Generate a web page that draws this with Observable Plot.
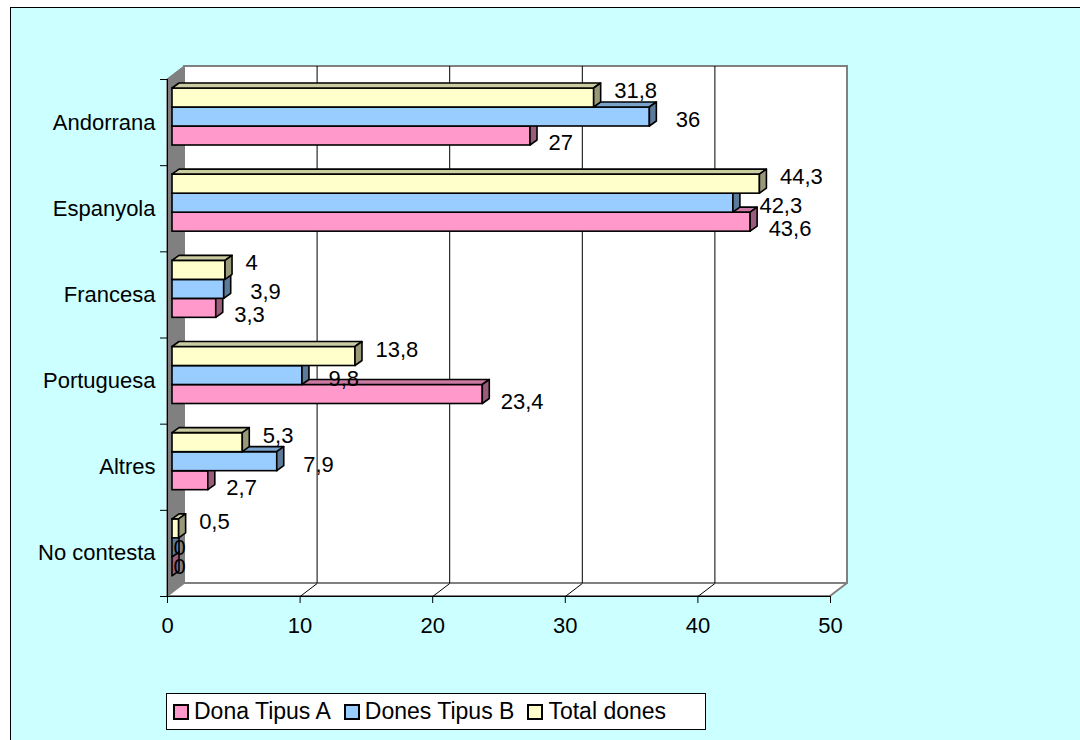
<!DOCTYPE html>
<html><head><meta charset="utf-8">
<script src="https://cdn.jsdelivr.net/npm/d3@7"></script>
<script src="https://cdn.jsdelivr.net/npm/@observablehq/plot@0.6"></script>
<style>
body{margin:0;background:#fff;width:1080px;height:740px;overflow:hidden;position:relative;font-family:"Liberation Sans",Arial,sans-serif;}
#frame{position:absolute;left:10px;top:7px;width:1100px;height:800px;background:#CCFFFF;border:1px solid #000;}
#chart{position:absolute;left:0;top:0;}
#legend{position:absolute;left:166px;top:693px;box-sizing:border-box;width:540px;height:37px;background:#fff;border:1px solid #000;display:flex;align-items:center;padding-left:6px;font-size:23px;color:#000;}
#legend .item{display:flex;align-items:center;margin-right:13px;white-space:nowrap;}
#legend .sw{box-sizing:border-box;width:16px;height:16px;border:2px solid #000;margin-right:5px;}
</style></head>
<body>
<div id="frame"></div>
<div id="chart"></div>
<div id="legend"></div>
<script>
const categories = ["Andorrana", "Espanyola", "Francesa", "Portuguesa", "Altres", "No contesta"];
const donaTipusA = [27, 43.6, 3.3, 23.4, 2.7, 0];
const donesTipusB = [36, 42.3, 3.9, 9.8, 7.9, 0];
const totalDones = [31.8, 44.3, 4, 13.8, 5.3, 0.5];
const seriesNames = ["Dona Tipus A", "Dones Tipus B", "Total dones"];
const xTicks = [0, 10, 20, 30, 40, 50];

// layout
const W = 1080, H = 660, ML = 167, MR = 250, MT = 79, MB = 64;
const X0 = ML, X1 = W - MR, Y0 = MT, Y1 = H - MB;
const pxX = 50 / (X1 - X0), pxY = categories.length / (Y1 - Y0);
const WX = 17, WY = 13;       // wall depth (px)
const BX = 7, BY = 5;         // bar depth (px)
const BAR_FRONT_DX = 5;
const BAND_START = 9, BAR_H = 19;
const FS = 22;

const fmt = v => String(v).replace(".", ",");

const series = [
  {name: seriesNames[0], values: donaTipusA, slot: 2, fill: "#FF99CC", top: "#CC7AA3", side: "#995C7A", dx: 23, dy: 7},
  {name: seriesNames[1], values: donesTipusB, slot: 1, fill: "#99CCFF", top: "#7AA3CC", side: "#5C7A99", dx: 31, dy: 3},
  {name: seriesNames[2], values: totalDones, slot: 0, fill: "#FFFFCC", top: "#CCCCA3", side: "#99997A", dx: 25, dy: -7}
];

function rowsOf(s) {
  return categories.map((c, i) => ({
    cat: c, i, v: s.values[i],
    y1: i + (BAND_START + BAR_H * s.slot) * pxY,
    y2: i + (BAND_START + BAR_H * (s.slot + 1)) * pxY
  }));
}

const marks = [];
// left wall
marks.push(Plot.areaY([{x: 0, y1: 0, y2: 6}, {x: WX * pxX, y1: -WY * pxY, y2: 6 - WY * pxY}],
  {x: "x", y1: "y1", y2: "y2", fill: "#808080", stroke: "#808080"}));
// back wall
marks.push(Plot.rect([0], {x1: () => 0, x2: () => 50, y1: () => 0, y2: () => 6, dx: WX, dy: -WY,
  fill: "#fff", stroke: "#808080", strokeWidth: 2}));
// floor
marks.push(Plot.areaX([{y: 6, x1: 0, x2: 50}, {y: 6 - WY * pxY, x1: WX * pxX, x2: 50 + WX * pxX}],
  {y: "y", x1: "x1", x2: "x2", fill: "#fff", stroke: "#808080", strokeWidth: 2}));
// gridlines on back wall and floor
const grid = xTicks.slice(1, -1);
marks.push(Plot.ruleX(grid, {x: d => d, y1: () => 0, y2: () => 6, dx: WX, dy: -WY, stroke: "#000", strokeWidth: 1}));
marks.push(Plot.link(grid, {x1: d => d, y1: () => 6, x2: d => d + WX * pxX, y2: () => 6 - WY * pxY, stroke: "#000", strokeWidth: 1}));
// front axes lines
marks.push(Plot.ruleY([6], {y: d => d, x1: () => 0, x2: () => 50, stroke: "#000"}));
marks.push(Plot.ruleX([0], {x: d => d, y1: () => 0, y2: () => 6, stroke: "#000"}));

// bars: bottom slot first (pink, blue, yellow)
for (const s of series) {
  const rows = rowsOf(s);
  const topPts = rows.flatMap(r => [
    {z: r.i, y: r.y1, x1: 0, x2: r.v},
    {z: r.i, y: r.y1 - BY * pxY, x1: BX * pxX, x2: r.v + BX * pxX}
  ]);
  const sidePts = rows.flatMap(r => [
    {z: r.i, x: r.v, y1: r.y1, y2: r.y2},
    {z: r.i, x: r.v + BX * pxX, y1: r.y1 - BY * pxY, y2: r.y2 - BY * pxY}
  ]);
  marks.push(Plot.rect(rows, {x1: () => 0, x2: "v", y1: "y1", y2: "y2", dx: BAR_FRONT_DX,
    fill: s.fill, stroke: "#000", strokeWidth: 1.6}));
  marks.push(Plot.areaX(topPts, {y: "y", x1: "x1", x2: "x2", z: "z", dx: BAR_FRONT_DX,
    fill: s.top, stroke: "#000", strokeWidth: 1.6, strokeLinejoin: "round"}));
  marks.push(Plot.areaY(sidePts, {x: "x", y1: "y1", y2: "y2", z: "z", dx: BAR_FRONT_DX,
    fill: s.side, stroke: "#000", strokeWidth: 1.6, strokeLinejoin: "round"}));
}
// value labels
for (const s of series) {
  const rows = rowsOf(s);
  marks.push(Plot.text(rows.filter(r => r.v > 0), {x: "v", y: r => (r.y1 + r.y2) / 2, text: r => fmt(r.v),
    textAnchor: "start", dx: s.dx, dy: s.dy, fontSize: FS, fill: "#000"}));
  marks.push(Plot.text(rows.filter(r => r.v === 0), {x: "v", y: r => (r.y1 + r.y2) / 2, text: r => fmt(r.v),
    textAnchor: "start", dx: 6, dy: 0, fontSize: FS, fill: "#000"}));
}
// axes
marks.push(Plot.axisX({ticks: xTicks, tickSize: 7, tickPadding: 14, fontSize: FS, label: null, tickFormat: d => String(d)}));
marks.push(Plot.axisY({ticks: d3.range(0, categories.length + 1), tickSize: 7, tickFormat: () => "", label: null}));
marks.push(Plot.axisY({ticks: categories.map((c, i) => i + 0.5), tickSize: 0, tickPadding: 12, fontSize: FS, label: null,
  tickFormat: d => categories[Math.floor(d)]}));

const chart = Plot.plot({
  width: W, height: H,
  marginLeft: ML, marginRight: MR, marginTop: MT, marginBottom: MB,
  x: {domain: [0, 50], range: [X0, X1], label: null},
  y: {domain: [0, categories.length], range: [Y0, Y1], label: null},
  style: {fontFamily: "'Liberation Sans', Arial, sans-serif", fontSize: FS + "px", background: "transparent", color: "#000", overflow: "visible"},
  marks
});
document.getElementById("chart").appendChild(chart);

// legend
const legend = document.getElementById("legend");
for (const s of series) {
  const item = document.createElement("div");
  item.className = "item";
  const sw = document.createElement("div");
  sw.className = "sw";
  sw.style.background = s.fill;
  const t = document.createElement("span");
  t.textContent = s.name;
  item.appendChild(sw); item.appendChild(t);
  legend.appendChild(item);
}
</script>
</body></html>
